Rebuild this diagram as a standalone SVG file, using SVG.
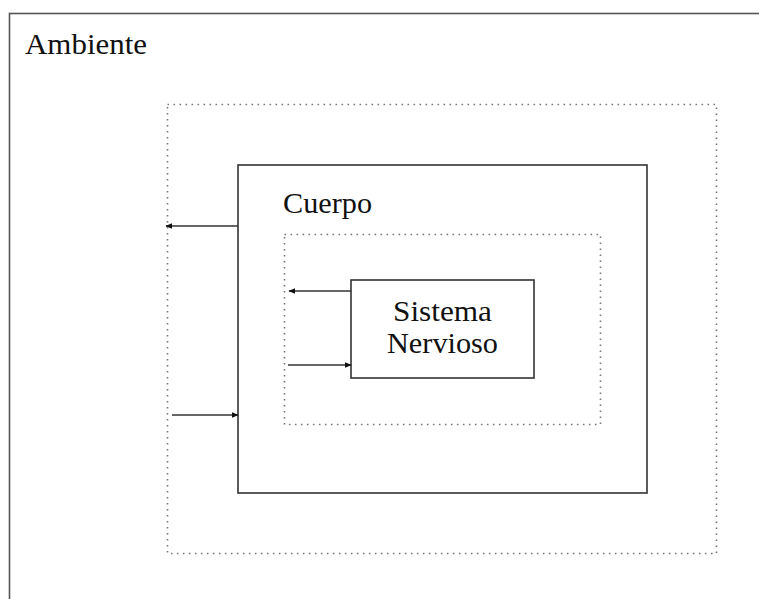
<svg xmlns="http://www.w3.org/2000/svg" width="759" height="599" viewBox="0 0 759 599">
<style>
.box{fill:none;stroke:#333;stroke-width:1.6}
.dot{fill:none;stroke:#777;stroke-width:1.6;stroke-dasharray:1.6 4.4}
.lbl{font-family:"Liberation Serif","Times New Roman",serif;font-size:29px;fill:#111}
.conn{stroke:#333;stroke-width:1.5;fill:none}
</style>
<defs>
<marker id="ah" viewBox="0 0 10 10" refX="9" refY="5" markerWidth="7" markerHeight="7" markerUnits="userSpaceOnUse" orient="auto">
<path d="M0,1 L10,5 L0,9 Z" fill="#111"/>
</marker>
</defs>
<rect width="759" height="599" fill="#fff"/>
<g id="ambiente">
<rect class="box" x="9.5" y="13.5" width="800" height="650" style="stroke:#555"/>
<text class="lbl" x="25" y="54" textLength="122" lengthAdjust="spacingAndGlyphs">Ambiente</text>
</g>
<g id="limite-cuerpo">
<rect class="dot" x="167.5" y="104.5" width="549" height="449"/>
</g>
<g id="cuerpo">
<rect class="box" x="238" y="165" width="409" height="328"/>
<text class="lbl" x="283" y="213" textLength="89" lengthAdjust="spacingAndGlyphs">Cuerpo</text>
</g>
<g id="limite-sn">
<rect class="dot" x="284.5" y="234.5" width="316" height="190"/>
</g>
<g id="sistema-nervioso">
<rect class="box" x="351" y="280" width="183" height="98"/>
<text class="lbl" x="442.5" y="321" text-anchor="middle" textLength="99" lengthAdjust="spacingAndGlyphs">Sistema</text>
<text class="lbl" x="442.5" y="353" text-anchor="middle" textLength="111" lengthAdjust="spacingAndGlyphs">Nervioso</text>
</g>
<g id="connectors">
<line class="conn" x1="238" y1="226" x2="166" y2="226" marker-end="url(#ah)"/>
<line class="conn" x1="172" y1="415" x2="238" y2="415" marker-end="url(#ah)"/>
<line class="conn" x1="351" y1="291" x2="289" y2="291" marker-end="url(#ah)"/>
<line class="conn" x1="288" y1="365" x2="351" y2="365" marker-end="url(#ah)"/>
</g>
</svg>
